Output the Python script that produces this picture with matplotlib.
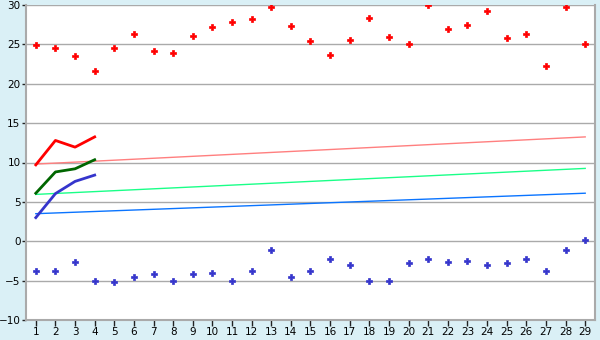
import matplotlib
matplotlib.use("Agg")
import matplotlib.pyplot as plt
import numpy as np

days = list(range(1, 30))
red_points = [24.9, 24.6, 23.5, 21.6, 24.5, 26.3, 24.1, 23.9, 26.1, 27.2,
              27.9, 28.2, 29.7, 27.3, 25.4, 23.7, 25.6, 28.4, 25.9, 25.0,
              30.0, 27.0, 27.5, 29.3, 25.8, 26.3, 22.2, 29.8, 25.1]
blue_points = [-3.8, -3.8, -2.6, -5.0, -5.2, -4.5, -4.2, -5.0, -4.1, -4.0,
               -5.0, -3.8, -1.1, -4.6, -3.8, -2.2, -3.0, -5.0, -5.0, -2.8,
               -2.2, -2.6, -2.5, -3.0, -2.8, -2.2, -3.8, -1.1, 0.2]
short_days = [1, 2, 3, 4]
red_line = [9.7, 12.8, 11.95, 13.25]
green_line = [6.1, 8.8, 9.2, 10.35]
blue_line = [3.0, 6.05, 7.6, 8.4]
trend_days = [1, 29]
pink_trend = [9.8, 13.25]
green_trend = [5.95, 9.25]
blue_trend = [3.5, 6.1]
yticks = [-10, -5, 0, 5, 10, 15, 20, 25, 30]

fig = plt.figure(figsize=(6, 3.4), dpi=100, facecolor="#daf0f6")
ax = fig.add_axes([26/600, 20/340, 569/600, 315/340])
ax.set_facecolor("white")

for y in yticks:
    ax.axhline(y, color="#aaaaaa", lw=1.0, zorder=0)

ax.plot(trend_days, pink_trend, color="#ff7f7f", lw=1.0, zorder=2)
ax.plot(trend_days, green_trend, color="#1aff88", lw=1.0, zorder=2)
ax.plot(trend_days, blue_trend, color="#0a74ff", lw=1.0, zorder=2)

ax.plot(short_days, red_line, color="#ff0000", lw=2, zorder=3)
ax.plot(short_days, green_line, color="#006600", lw=2, zorder=3)
ax.plot(short_days, blue_line, color="#3535cc", lw=2, zorder=3)

ax.plot(days, red_points, ls="none", marker="P", ms=4.5, color="#ff0000",
        mec="#ff0000", mew=0.5, zorder=4)
ax.plot(days, blue_points, ls="none", marker="P", ms=4.5, color="#3535cc",
        mec="#3535cc", mew=0.5, zorder=4)

ax.set_xlim(0.5, 29.5)
ax.set_ylim(-10, 30)
ax.set_xticks(days)
ax.set_yticks(yticks)
ax.set_yticklabels([str(v).replace("-", "\u2212") for v in yticks])
for s in ["left", "bottom", "right"]:
    ax.spines[s].set_color("#aaaaaa")
    ax.spines[s].set_linewidth(1.5)
ax.spines["top"].set_visible(False)
ax.tick_params(axis="x", length=4, width=1, color="#222222", labelsize=7.5,
               pad=1)
ax.tick_params(axis="y", length=3, width=1, color="#222222", labelsize=7.5,
               pad=1)

fig.savefig("out.png", dpi=100, facecolor=fig.get_facecolor())
